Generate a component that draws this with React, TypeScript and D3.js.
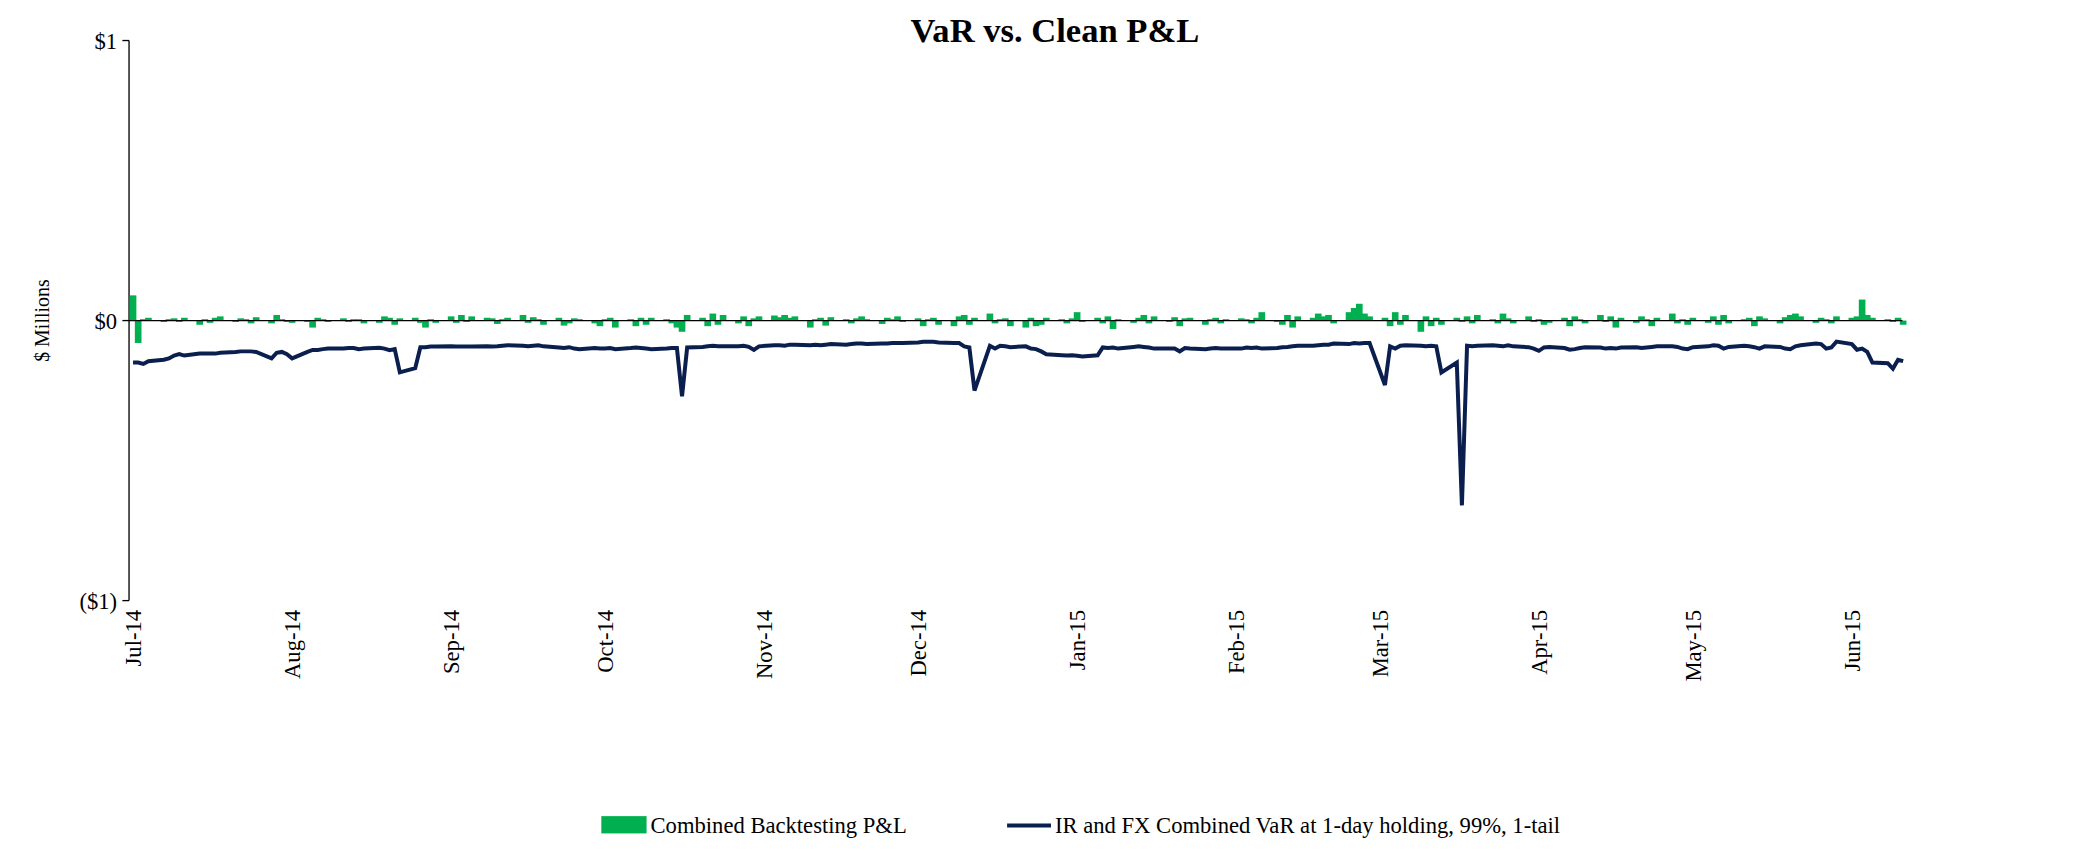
import React, { useEffect, useRef } from "react";
import * as d3 from "d3";

// values in $ thousands, one per business day starting 1-Jul-2014
const varJul = [-150,-150,-155,-145,-140,-135,-125,-120,-125,-118,-118,-118,-118,-115,-112,-110,-110,-110,-112,-135,-115,-112,-120];
const varAug = [-135,-112,-105,-105,-102,-100,-100,-98,-98,-102,-100,-97,-100,-106,-102,-185,-170,-95,-95,-93,-93];
const varSep = [-92,-93,-93,-93,-93,-92,-93,-92,-90,-88,-90,-92,-90,-88,-92,-96,-98,-95,-100,-102,-98,-100];
const varOct = [-100,-98,-102,-98,-96,-98,-100,-102,-100,-98,-98,-270,-96,-94,-92,-90,-92,-92,-92,-90,-94,-105,-92];
const varNov = [-88,-88,-90,-86,-86,-88,-86,-88,-86,-84,-86,-84,-82,-82,-84,-82,-82,-80,-80,-80];
const varDec = [-78,-76,-76,-76,-78,-80,-80,-92,-96,-250,-90,-100,-90,-92,-95,-92,-100,-102,-110,-120,-124,-125,-124];
const varJan = [-126,-128,-124,-96,-98,-96,-100,-94,-92,-94,-96,-100,-100,-100,-110,-98,-100,-102,-100,-98,-100,-100];
const varFeb = [-100,-96,-98,-96,-100,-98,-95,-94,-92,-90,-90,-88,-86,-86,-82,-84,-80,-82,-80,-80];
const varMar = [-230,-92,-100,-90,-88,-90,-92,-90,-92,-185,-150,-660,-90,-92,-90,-88,-90,-92,-88,-92,-95,-100];
const varApr = [-108,-96,-94,-98,-104,-102,-98,-95,-96,-100,-98,-100,-96,-95,-98,-96,-94,-92,-92,-94,-100,-102];
const varMay = [-95,-92,-88,-90,-100,-94,-90,-92,-95,-100,-92,-94,-100,-102,-92,-88,-82,-84,-100,-96,-75];
const varJun = [-84,-104,-100,-112,-150,-152,-172,-140,-145];

const pnlJul = [90,-80,5,10,-5,5,8,-5,10,-15,5,-8,10,15,-5,8,5,-10,12,-10,20,5,-5];
const pnlAug = [-8,-5,-25,10,5,-5,8,-5,5,5,-10,-8,15,10,-15,8,10,-8,-25,5,-8];
const pnlSep = [15,-8,20,-5,15,10,8,-12,5,10,20,-8,12,5,-15,10,-18,-10,8,5,-10,-20];
const pnlOct = [5,10,-25,5,-20,10,-15,10,5,-10,-25,-40,20,10,-20,25,-15,20,-10,15,-20,8,15];
const pnlNov = [18,12,20,10,15,-25,5,10,-18,12,5,-10,8,15,5,-12,10,5,15,-5];
const pnlDec = [8,-20,5,10,-15,-20,15,20,-15,10,25,-10,5,8,-20,-25,10,-20,-15,10,5,-10,8];
const pnlJan = [30,-5,10,-10,15,-30,5,-8,10,20,-10,15,-5,12,-20,8,10,-15,5,10,-10,5];
const pnlFeb = [8,5,-10,10,30,-5,-15,20,-25,15,10,25,15,20,-10,30,45,60,25,15];
const pnlMar = [10,-20,30,-15,20,-40,15,-20,10,-15,10,-5,15,-10,20,5,-10,25,8,-10,15,-5];
const pnlApr = [5,-15,-8,10,-20,15,5,-10,20,-5,15,-25,10,-8,15,5,-20,10,25,-10,5,-15];
const pnlMay = [10,-8,15,-15,20,-10,5,10,-20,15,8,-10,12,20,25,15,-8,10,5,-10,15];
const pnlJun = [10,15,75,20,10,5,-5,10,-15];

const yTicks = [1, 0, -1];
const yTickLabels = ["$1", "$0", "($1)"];

const varAll = [varJul, varAug, varSep, varOct, varNov, varDec, varJan, varFeb, varMar, varApr, varMay, varJun].flat();
const pnlAll = [pnlJul, pnlAug, pnlSep, pnlOct, pnlNov, pnlDec, pnlJan, pnlFeb, pnlMar, pnlApr, pnlMay, pnlJun].flat();

const App = () => {
  const svgRef = useRef(null);

  useEffect(() => {
    document.body.style.margin = "0";
    const svg = d3.select(svgRef.current);
    svg.selectAll("*").remove();
    const font = "'Liberation Serif', 'Times New Roman', serif";

    const days: Date[] = [];
    let d = new Date(2014, 6, 1);
    while (days.length < varAll.length) {
      if (d.getDay() !== 0 && d.getDay() !== 6) days.push(new Date(d));
      d = d3.timeDay.offset(d, 1);
    }

    const x = d3.scaleTime().domain([new Date(2014, 6, 1), new Date(2015, 5, 1)]).range([100, 1392]);
    const y = d3.scaleLinear().domain([-1, 1]).range([449, 28]);

    svg.append("text").attr("x", 793).attr("y", 29).attr("text-anchor", "middle")
      .attr("font-family", font).attr("font-weight", "bold").attr("font-size", 26).text("VaR vs. Clean P&L");

    // y axis
    svg.append("line").attr("x1", 97).attr("x2", 97).attr("y1", y(1)).attr("y2", y(-1)).attr("stroke", "#000");
    yTicks.forEach((t, i) => {
      svg.append("line").attr("x1", 92).attr("x2", 97).attr("y1", y(t)).attr("y2", y(t)).attr("stroke", "#000");
      svg.append("text").attr("x", 88).attr("y", y(t) + 6).attr("text-anchor", "end")
        .attr("font-family", font).attr("font-size", 17).text(yTickLabels[i]);
    });
    svg.append("text").attr("transform", `translate(37,${y(0)}) rotate(-90)`).attr("text-anchor", "middle")
      .attr("font-family", font).attr("font-size", 15).text("$ Millions");

    // x labels
    x.ticks(d3.timeMonth.every(1)).forEach((m) => {
      svg.append("text").attr("transform", `translate(${x(m) + 6},456) rotate(-90)`).attr("text-anchor", "end")
        .attr("font-family", font).attr("font-size", 17).text(d3.timeFormat("%b-%y")(m));
    });

    // bars
    svg.append("g").selectAll("rect").data(pnlAll).enter().append("rect")
      .attr("x", (_, i) => x(days[i]) - 2.5)
      .attr("width", 5)
      .attr("y", (v) => y(Math.max(0, v / 1000)))
      .attr("height", (v) => Math.abs(y(v / 1000) - y(0)))
      .attr("fill", "#00B050");

    svg.append("line").attr("x1", 97).attr("x2", 1430).attr("y1", y(0)).attr("y2", y(0)).attr("stroke", "#000").attr("stroke-width", 1);

    const line = d3.line<number>().x((_, i) => x(days[i])).y((v) => y(v / 1000));
    svg.append("path").attr("d", line(varAll)).attr("fill", "none").attr("stroke", "#0B1F4E").attr("stroke-width", 3);

    // legend
    svg.append("rect").attr("x", 452).attr("y", 611).attr("width", 34).attr("height", 13).attr("fill", "#00B050");
    svg.append("text").attr("x", 489).attr("y", 624).attr("font-family", font).attr("font-size", 17).text("Combined Backtesting P&L");
    svg.append("line").attr("x1", 757).attr("x2", 790).attr("y1", 618).attr("y2", 618).attr("stroke", "#0B1F4E").attr("stroke-width", 3);
    svg.append("text").attr("x", 793).attr("y", 624).attr("font-family", font).attr("font-size", 17)
      .text("IR and FX Combined VaR at 1-day holding, 99%, 1-tail");
  }, []);

  return (
    <svg ref={svgRef} width={2086} height={854} viewBox="0 0 1568 637" style={{ display: "block", background: "#fff" }} />
  );
};

export default App;
